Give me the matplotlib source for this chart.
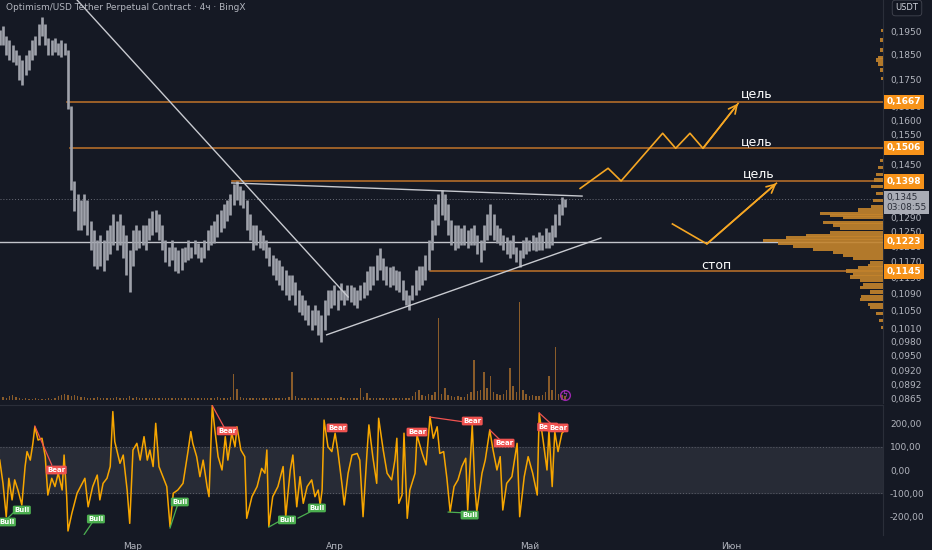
import matplotlib.pyplot as plt
import numpy as np
from matplotlib.ticker import FixedLocator, FuncFormatter, NullLocator

# 12h candles, day 0 = 1 March
start_day = -20.5
step = 0.5

highs = [0.1954, 0.197, 0.193, 0.191, 0.189, 0.187, 0.185, 0.183, 0.185, 0.187,
         0.191, 0.193, 0.198, 0.201, 0.198, 0.192, 0.191, 0.192, 0.190, 0.191,
         0.190, 0.187, 0.165, 0.140, 0.136, 0.134, 0.136, 0.134, 0.128, 0.1255,
         0.1227, 0.124, 0.1227, 0.1255, 0.127, 0.130, 0.128, 0.130, 0.127, 0.124,
         0.120, 0.1255, 0.127, 0.1255, 0.127, 0.127, 0.129, 0.131, 0.1312, 0.130,
         0.127, 0.1227, 0.121, 0.1227, 0.121, 0.120, 0.1205, 0.121, 0.1227, 0.121,
         0.1227, 0.122, 0.121, 0.1227, 0.1255, 0.127, 0.128, 0.130, 0.1312, 0.133,
         0.134, 0.136, 0.139, 0.140, 0.1385, 0.137, 0.134, 0.130, 0.127, 0.127,
         0.1255, 0.124, 0.1227, 0.121, 0.1187, 0.118, 0.1174, 0.116, 0.1149, 0.1135,
         0.1135, 0.1118, 0.1099, 0.1087, 0.1075, 0.1063, 0.1051, 0.1063, 0.1051, 0.104,
         0.1075, 0.1099, 0.1099, 0.111, 0.1099, 0.1116, 0.1099, 0.111, 0.111, 0.1105,
         0.1099, 0.111, 0.1118, 0.1145, 0.116, 0.116, 0.1187, 0.1205, 0.118, 0.116,
         0.1155, 0.116, 0.1149, 0.1145, 0.1123, 0.1099, 0.1087, 0.111, 0.1149, 0.116,
         0.116, 0.1187, 0.1227, 0.1283, 0.133, 0.136, 0.1371, 0.136, 0.133, 0.1283,
         0.127, 0.127, 0.1262, 0.127, 0.1255, 0.1262, 0.127, 0.124, 0.1227, 0.127,
         0.130, 0.133, 0.130, 0.127, 0.1262, 0.124, 0.1235, 0.1227, 0.124, 0.121,
         0.120, 0.1227, 0.1235, 0.1227, 0.124, 0.1235, 0.125, 0.124, 0.1262, 0.125,
         0.127, 0.130, 0.133, 0.135, 0.1345]

lows = [0.189, 0.189, 0.185, 0.183, 0.182, 0.181, 0.175, 0.173, 0.177, 0.179,
        0.183, 0.185, 0.189, 0.193, 0.189, 0.185, 0.185, 0.186, 0.185, 0.184,
        0.185, 0.164, 0.137, 0.131, 0.1255, 0.1255, 0.127, 0.124, 0.120, 0.116,
        0.115, 0.116, 0.1145, 0.1174, 0.119, 0.1215, 0.120, 0.1215, 0.118, 0.1135,
        0.1095, 0.116, 0.120, 0.1205, 0.1215, 0.120, 0.1227, 0.124, 0.125, 0.1227,
        0.120, 0.117, 0.116, 0.1174, 0.1145, 0.114, 0.1149, 0.117, 0.1174, 0.118,
        0.119, 0.118, 0.117, 0.118, 0.120, 0.1215, 0.122, 0.1235, 0.125, 0.126,
        0.128, 0.1297, 0.1327, 0.134, 0.1327, 0.1318, 0.1255, 0.1227, 0.120, 0.1215,
        0.1205, 0.120, 0.118, 0.116, 0.1135, 0.1123, 0.111, 0.1099, 0.1087, 0.1075,
        0.1087, 0.1063, 0.1046, 0.104, 0.1028, 0.1017, 0.1006, 0.1017, 0.0995, 0.098,
        0.1006, 0.104, 0.1055, 0.1063, 0.1051, 0.1075, 0.1063, 0.1075, 0.107, 0.1063,
        0.1055, 0.1075, 0.108, 0.1087, 0.1099, 0.111, 0.1123, 0.1149, 0.1123, 0.111,
        0.1105, 0.111, 0.1099, 0.1094, 0.1075, 0.1063, 0.1051, 0.1075, 0.1087, 0.1099,
        0.111, 0.1123, 0.1149, 0.120, 0.124, 0.127, 0.1297, 0.1283, 0.124, 0.1215,
        0.120, 0.1205, 0.1215, 0.1215, 0.1205, 0.1215, 0.1215, 0.119, 0.117, 0.120,
        0.1227, 0.124, 0.1227, 0.122, 0.1215, 0.120, 0.119, 0.118, 0.119, 0.117,
        0.1155, 0.118, 0.119, 0.1197, 0.120, 0.1197, 0.120, 0.120, 0.1205, 0.1205,
        0.1215, 0.1235, 0.127, 0.1297, 0.132]

volume = [2, 3, 2, 4, 5, 3, 2, 1, 2, 1, 1, 2, 1, 1, 1, 2, 1, 2, 4, 5,
          6, 5, 4, 5, 4, 3, 3, 2, 2, 2, 3, 2, 2, 2, 2, 2, 3, 2, 2, 2,
          4, 2, 3, 2, 2, 2, 2, 2, 2, 2, 2, 2, 2, 2, 2, 2, 2, 2, 2, 2,
          2, 2, 2, 2, 2, 2, 2, 3, 2, 2, 2, 3, 26, 11, 3, 2, 2, 2, 2, 2,
          2, 2, 2, 2, 2, 2, 2, 2, 2, 3, 28, 4, 2, 2, 2, 2, 2, 2, 2, 2,
          2, 2, 2, 2, 2, 3, 2, 2, 2, 2, 2, 12, 3, 7, 2, 2, 2, 2, 2, 2,
          2, 2, 2, 2, 2, 2, 2, 4, 8, 10, 5, 4, 6, 5, 8, 82, 6, 12, 5, 4,
          3, 4, 3, 3, 6, 8, 40, 9, 10, 28, 12, 24, 8, 6, 5, 6, 10, 32, 14, 8,
          98, 10, 6, 4, 5, 4, 4, 5, 8, 24, 10, 53, 6, 5, 4]

# volume profile (price level, relative size)
prof_price = [0.1954, 0.1912, 0.1870, 0.1841, 0.1829, 0.1813, 0.1789, 0.1757,
              0.1465, 0.1440, 0.1418, 0.1402, 0.1383, 0.1362, 0.1341, 0.1323,
              0.1312, 0.1303, 0.1297, 0.1289, 0.1277, 0.1269, 0.1260, 0.1249,
              0.1241, 0.1233, 0.1225, 0.1217, 0.1211, 0.1203, 0.1195, 0.1187,
              0.1179, 0.1169, 0.1161, 0.1154, 0.1146, 0.1138, 0.1131, 0.1123,
              0.1113, 0.1104, 0.1094, 0.1084, 0.1075, 0.1065, 0.1056, 0.1044,
              0.1028, 0.1012]
prof_vol = [2, 3, 3, 5, 7, 5, 3, 2,
            3, 5, 7, 9, 12, 7, 10, 12,
            25, 63, 53, 40, 60, 50, 43, 53,
            77, 97, 120, 105, 90, 70, 50, 40,
            30, 13, 15, 25, 37, 30, 33, 23,
            20, 23, 13, 22, 23, 15, 13, 7,
            4, 2]

# CCI-style oscillator (day, value)
osc_t = [-20.5, -20.0, -19.5, -19.1, -18.6, -18.2, -17.7, -17.1, -16.6, -16.3,
         -15.8, -15.4, -15.1, -14.6, -14.0, -13.5, -13.1, -12.5, -12.0, -11.5,
         -10.9, -10.6, -10.2, -10.0, -9.4, -8.6, -7.8, -7.4, -6.9, -6.2,
         -5.5, -5.1, -4.6, -4.0, -3.5, -3.1, -2.8, -2.0, -1.5, -0.9,
         -0.5, 0.0, 0.6, 1.1, 1.7, 2.2, 2.6, 3.1, 3.5, 4.0,
         4.6, 5.2, 5.7, 6.2, 6.9, 7.7, 8.5, 8.9, 9.2, 9.8,
         10.3, 10.8, 11.4, 11.7, 12.2, 12.6, 13.1, 13.7, 14.2, 14.6,
         15.2, 15.7, 16.0, 16.6, 17.2, 17.5, 18.3, 19.1, 19.8, 20.3,
         20.6, 20.9, 21.5, 22.3, 23.1, 23.5, 24.2, 24.6, 25.2, 25.7,
         26.2, 26.8, 27.5, 28.0, 28.5, 28.8, 29.1, 29.4, 30.0, 30.6,
         31.1, 31.5, 32.2, 32.5, 33.1, 33.7, 34.5, 34.9, 35.4, 36.0,
         36.3, 36.9, 37.5, 37.8, 38.5, 39.1, 39.8, 40.3, 40.6, 40.9,
         41.4, 41.7, 42.2, 42.6, 43.4, 43.7, 44.5, 45.1, 45.7, 46.2,
         46.8, 47.2, 47.8, 48.3, 48.8, 49.4, 50.0, 50.6, 51.2, 51.5,
         52.2, 52.6, 52.9, 53.7, 54.2, 54.9, 55.4, 56.0, 56.5, 56.9,
         57.5, 58.3, 59.1, 59.5, 60.2, 60.8, 61.5, 62.2, 62.5, 63.1,
         63.7, 64.0, 64.5, 64.9, 65.4, 66.0, 66.5]
osc_v = [43, -58, -203, -36, -130, -43, -87, -152, 15, 80,
         43, 116, 188, 130, 138, 58, -109, -36, -72, -14,
         -87, 65, -116, -265, -188, -101, -58, -36, -160, -72,
         -22, -130, -58, -36, 15, 254, 123, 29, 65, -87,
         -232, 87, 116, 43, 145, 43, 87, 15, 203, 15,
         -29, -72, -246, -101, -87, -58, 87, 167, 116, 58,
         -29, 43, -72, -116, 280, 174, 58, 0, 145, 43,
         160, 101, 188, 87, 58, -210, -116, -72, 7, -14,
         87, -246, -116, -72, 15, -203, 0, 65, -160, -29,
         -145, -72, -43, -116, -87, -152, -87, 217, 101, 80,
         160, 87, -72, -152, -14, 65, 72, 43, -203, 72,
         196, 58, -58, 225, 87, -14, -43, 43, 138, -145,
         -109, 160, -210, -87, -14, 152, 72, 22, 232, 138,
         188, 72, 80, -36, -181, -72, -43, 15, 51, -174,
         196, -72, -181, -14, 43, 174, 87, 0, 58, -174,
         -58, -29, 116, -203, -29, 58, -14, -109, 247, 130,
         0, 174, -72, 167, 80, 160, 174]

bull_t = [-19.4, -17.1, -5.7, 7.2, 23.7, 28.3, 51.8]
bull_v = [-226, -174, -213, -139, -217, -165, -196]
bear_t = [-11.8, 14.5, 31.4, 43.7, 52.2, 57.1, 63.8, 65.4]
bear_v = [0, 170, 183, 165, 213, 117, 187, 183]
bull_lines = [((-19.4, -213), (-18.3, -183)), ((-7.5, -280), (-6.3, -230)),
              ((5.7, -252), (6.8, -157)), ((20.9, -248), (22.3, -226)),
              ((25.4, -209), (27.2, -183)), ((48.5, -183), (51.5, -187))]
bear_lines = [((-15.1, 191), (-12.5, 22)), ((12.2, 280), (14.0, 187)),
              ((45.7, 230), (52.2, 204)), ((54.9, 174), (56.5, 130)),
              ((62.5, 248), (64.2, 204))]

# levels and drawings
targets = [0.1667, 0.1506, 0.1398, 0.1145]
target_from = [-10.15, -9.7, 15.2, 45.7]
base_level = 0.1223
last_price = 0.1345
trend_lines = [((-8.6, 0.2089), (33.1, 0.1082)),
               ((15.2, 0.1393), (69.1, 0.1353)),
               ((29.8, 0.0995), (72.0, 0.1233))]
path_up_t = [68.8, 73.1, 75.1, 81.5, 83.5, 85.7, 87.7, 93.1]
path_up_p = [0.1376, 0.1439, 0.1399, 0.1555, 0.1504, 0.1555, 0.1504, 0.1661]
path_dn_t = [83.0, 88.3, 99.0]
path_dn_p = [0.1272, 0.1217, 0.1392]
notes = [(96.0, 0.1699, 'цель'), (96.0, 0.1526, 'цель'), (96.3, 0.1420, 'цель'), (89.8, 0.1159, 'стоп')]

price_ticks = [0.1950, 0.1850, 0.1750, 0.1650, 0.1600, 0.1550, 0.1450, 0.1290, 0.1250,
               0.1210, 0.1170, 0.1130, 0.1090, 0.1050, 0.1010, 0.0980, 0.0950, 0.0920,
               0.0892, 0.0865]
osc_ticks = [200, 100, 0, -100, -200]
month_days = [0, 31, 61, 92]
month_names = ['Мар', 'Апр', 'Май', 'Июн']

bg = '#151924'
grid_c = '#2a2e39'
txt_c = '#b2b5be'
lvl_c = '#c0742a'
arr_c = '#f5a623'
W, H = 932, 550
xmin, xmax = -20.46, 115.4


def box(x0, y0, x1, y1):
    return [x0 / W, 1 - y1 / H, (x1 - x0) / W, (y1 - y0) / H]


def comma(v, nd):
    return f"{v:.{nd}f}".replace('.', ',')


fig = plt.figure(figsize=(9.32, 5.5), dpi=100, facecolor=bg)
ax_vol = fig.add_axes(box(0, 300, 883, 400))
ax = fig.add_axes(box(0, 0, 883, 403))
ax_osc = fig.add_axes(box(0, 405, 883, 535))

days = start_day + step * np.arange(len(highs))

# volume
ax_vol.set_facecolor('none')
ax_vol.bar(days, volume, width=0.22, color='#a0682c', alpha=0.85)
ax_vol.axhline(0.5, color='#8a5a2b', lw=0.6, ls=(0, (1, 1.5)))
ax_vol.set_xlim(xmin, xmax)
ax_vol.set_ylim(0, 100)
ax_vol.axis('off')

# price pane
ax.set_facecolor('none')
ax.set_yscale('log')
ax.set_xlim(xmin, xmax)
ax.set_ylim(0.08555, 0.2089)
ax.vlines(days, lows, highs, color='#9fa2ab', lw=1.9, zorder=3)

for p, x0 in zip(targets, target_from):
    ax.plot([x0, xmax], [p, p], color=lvl_c, lw=1.1, zorder=2)
ax.axhline(base_level, color='#c3c5cb', lw=1.0, zorder=2)
ax.axhline(last_price, color='#6a6d78', lw=0.7, ls=(0, (1, 2)), zorder=1)
for (t0, p0), (t1, p1) in trend_lines:
    ax.plot([t0, t1], [p0, p1], color='#c8cad0', lw=1.0, zorder=4)

for pt, pp in [(path_up_t, path_up_p), (path_dn_t, path_dn_p)]:
    ax.plot(pt, pp, color=arr_c, lw=1.2, zorder=5)
    ax.annotate('', xy=(pt[-1], pp[-1]), xytext=(pt[-2], pp[-2]),
                arrowprops=dict(arrowstyle='->,head_length=0.6,head_width=0.3',
                                color=arr_c, lw=1.2, shrinkA=0, shrinkB=0), zorder=5)
for t, p, s in notes:
    ax.text(t, p, s, color='white', fontsize=9, ha='center', va='center', zorder=6)

ax.plot([66.5], [0.0871], marker='o', ms=7, mfc='none', mec='#9c27b0', mew=1.0, zorder=6)
ax.text(66.5, 0.0871, 'ϟ', color='#b03ccc', fontsize=5.5, ha='center', va='center', zorder=6)

ax.yaxis.tick_right()
ax.yaxis.set_major_locator(FixedLocator(price_ticks))
ax.yaxis.set_minor_locator(NullLocator())
ax.yaxis.set_major_formatter(FuncFormatter(lambda v, _: comma(v, 4)))
ax.yaxis.set_minor_formatter(FuncFormatter(lambda v, _: ''))
ax.tick_params(axis='y', length=0, pad=5, labelsize=6.5, labelcolor=txt_c)
ax.set_xticks([])
for s in ['top', 'left', 'bottom']:
    ax.spines[s].set_visible(False)
ax.spines['right'].set_color(grid_c)

# volume profile
ax_prof = ax.twiny()
ax_prof.set_xlim(883, 0)
pp = np.array(prof_price)
ax_prof.barh(pp, prof_vol, height=pp * 0.0068, left=0, color='#c4842c', alpha=0.9, zorder=1)
ax_prof.set_xticks([])
for s in ax_prof.spines.values():
    s.set_visible(False)

ylab = ax.get_yaxis_transform()
for p in [0.1667, 0.1506, 0.1398, 0.1223, 0.1145]:
    ax.text(1.004, p, comma(p, 4), transform=ylab, ha='left', va='center', fontsize=6.5,
            color='white', fontweight='bold', clip_on=False, zorder=10,
            bbox=dict(boxstyle='square,pad=0.3', fc='#f7931a', ec='none'))
ax.text(1.004, last_price * 1.012, comma(last_price, 4) + '\n03:08:55', transform=ylab,
        ha='left', va='top', fontsize=6.5, color='#2a2e39', linespacing=1.05,
        clip_on=False, zorder=10, bbox=dict(boxstyle='square,pad=0.3', fc='#a9acb5', ec='none'))

# oscillator pane
ax_osc.set_facecolor(bg)
ax_osc.set_xlim(xmin, xmax)
ax_osc.set_ylim(-282.6, 282.6)
ax_osc.axhspan(-100, 100, color='#2a2e39', alpha=0.9, zorder=0)
for lv in (100, -100):
    ax_osc.axhline(lv, color='#5d606b', lw=0.7, ls=(0, (1, 2)), zorder=1)
ax_osc.plot(osc_t, osc_v, color='#f7a600', lw=1.1, zorder=3)
for (a, b) in bull_lines:
    ax_osc.plot([a[0], b[0]], [a[1], b[1]], color='#4caf50', lw=0.9, zorder=4)
for (a, b) in bear_lines:
    ax_osc.plot([a[0], b[0]], [a[1], b[1]], color='#f05350', lw=0.9, zorder=4)
for t, v in zip(bull_t, bull_v):
    ax_osc.text(t, v, 'Bull', color='white', fontsize=5, fontweight='bold', ha='center',
                va='center', zorder=5, bbox=dict(boxstyle='round,pad=0.2', fc='#4caf50', ec='none'))
for t, v in zip(bear_t, bear_v):
    ax_osc.text(t, v, 'Bear', color='white', fontsize=5, fontweight='bold', ha='center',
                va='center', zorder=5, bbox=dict(boxstyle='round,pad=0.2', fc='#f05350', ec='none'))

ax_osc.yaxis.tick_right()
ax_osc.set_yticks(osc_ticks)
ax_osc.set_yticklabels([comma(v, 2) for v in osc_ticks])
ax_osc.set_xticks(month_days)
ax_osc.set_xticklabels(month_names)
ax_osc.tick_params(length=0, labelsize=6.5, labelcolor=txt_c)
ax_osc.tick_params(axis='y', pad=5)
ax_osc.tick_params(axis='x', pad=5)
for s in ['left', 'bottom']:
    ax_osc.spines[s].set_visible(False)
ax_osc.spines['top'].set_color(grid_c)
ax_osc.spines['right'].set_color(grid_c)

fig.text(6 / W, 1 - 7 / H, 'Optimism/USD Tether Perpetual Contract · 4ч · BingX',
         fontsize=6.5, color=txt_c, va='center', ha='left')
fig.text(907 / W, 1 - 8 / H, 'USDT', fontsize=6, color='#d1d4dc', ha='center', va='center',
         bbox=dict(boxstyle='round,pad=0.4', fc='#131722', ec='#434651', lw=0.6))

fig.savefig('out.png', dpi=100, facecolor=bg)
